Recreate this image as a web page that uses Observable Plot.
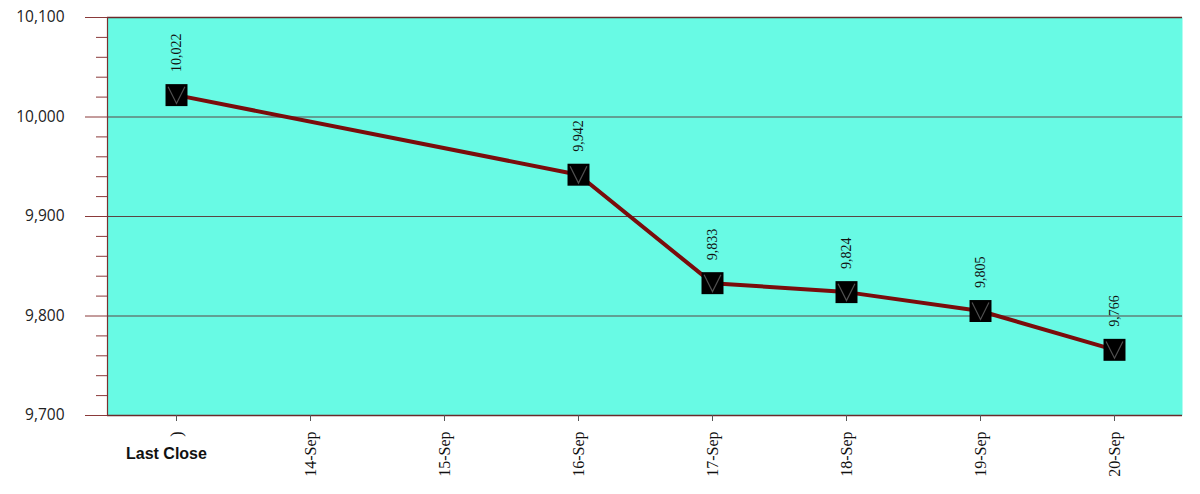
<!DOCTYPE html>
<html><head><meta charset="utf-8">
<script src="https://cdn.jsdelivr.net/npm/d3@7"></script>
<script src="https://cdn.jsdelivr.net/npm/@observablehq/plot@0.6"></script>
<style>
body{margin:0;background:#fff}
#wrap{position:relative;width:1200px;height:494px}
#legend{position:absolute;left:126px;top:445px;font:bold 16px "Liberation Sans",Arial,sans-serif;color:#111}
</style>
</head><body><div id="wrap"><div id="legend">Last Close</div></div>
<script>
const categories = [")", "14-Sep", "15-Sep", "16-Sep", "17-Sep", "18-Sep", "19-Sep", "20-Sep"];
const closes = [10022, null, null, 9942, 9833, 9824, 9805, 9766];
const yMajorTicks = [9700, 9800, 9900, 10000, 10100];
const yMinorTicks = [9720, 9740, 9760, 9780, 9820, 9840, 9860, 9880, 9920, 9940, 9960, 9980, 10020, 10040, 10060, 10080];
const yGridLines = [9800, 9900, 10000];
const yBorders = [9700, 10100];

const data = categories.map((c, i) => ({date: c, close: closes[i]})).filter(d => d.close != null);

const vSymbol = {draw(ctx, size) { const h = Math.sqrt(size) / 2; ctx.moveTo(-h, -h); ctx.lineTo(0, h); ctx.lineTo(h, -h); }};

const chart = Plot.plot({
  width: 1200, height: 494,
  marginLeft: 107, marginRight: 18, marginTop: 17, marginBottom: 79,
  x: {type: "point", domain: categories, padding: 0.5, label: null},
  y: {domain: [9700, 10100], label: null},
  style: {background: "transparent"},
  marks: [
    Plot.frame({fill: "#68fae4", stroke: null}),
    Plot.ruleY(yGridLines, {stroke: "#5a4444", strokeWidth: 1}),
    Plot.ruleY(yBorders, {stroke: "#6a2a2a", strokeWidth: 1.3}),
    Plot.frame({anchor: "left", stroke: "#7a3030", strokeWidth: 1.2}),
    Plot.axisY({ticks: yMinorTicks, tickSize: 11, tickFormat: () => "", stroke: "#8a3a3a", label: null}),
    Plot.axisY({ticks: yMajorTicks, tickSize: 22, tickPadding: 21, tickFormat: d3.format(","), stroke: "#8a3a3a",
      fontSize: 15.5, fill: "#222", fontFamily: "'Open Sans', sans-serif", label: null}),
    Plot.axisX({tickSize: 6, tickRotate: -90, tickPadding: 10, fontSize: 16, fill: "#111",
      fontFamily: "'Liberation Serif', serif", label: null, stroke: "#555"}),
    Plot.lineY(data, {x: "date", y: "close", stroke: "#7a0c0c", strokeWidth: 4}),
    Plot.dot(data, {x: "date", y: "close", symbol: "square", r: 12.4, fill: "#000"}),
    Plot.dot(data, {x: "date", y: "close", symbol: vSymbol, r: 9.5, stroke: "#505050", strokeWidth: 1.2, fill: "none"}),
    Plot.text(data, {x: "date", y: "close", text: d => d3.format(",")(d.close), rotate: -90, textAnchor: "start",
      dy: -23, fontSize: 14, fill: "#111", fontFamily: "'Liberation Serif', serif"})
  ]
});
document.getElementById("wrap").prepend(chart);
</script>
</body></html>
